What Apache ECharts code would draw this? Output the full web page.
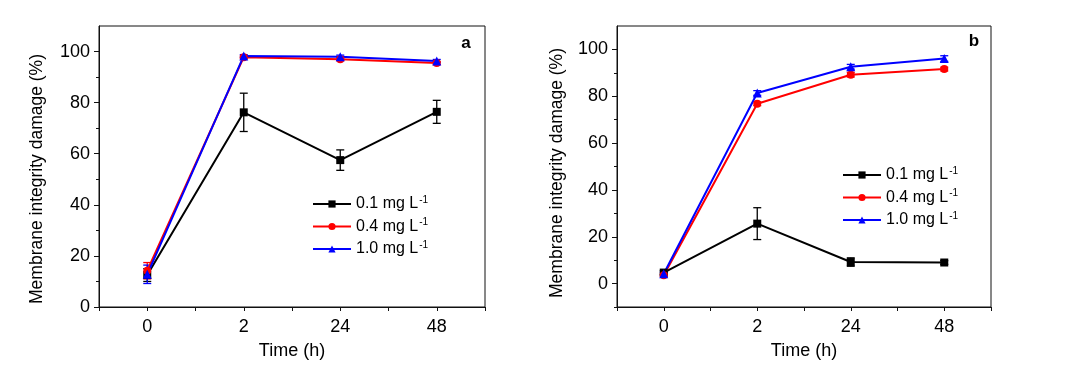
<!DOCTYPE html>
<html>
<head>
<meta charset="utf-8">
<script src="https://cdn.jsdelivr.net/npm/echarts@6.0.0/dist/echarts.min.js"></script>
<style>
  html, body { margin: 0; padding: 0; background: #fff; }
  #main { width: 1080px; height: 375px; }
</style>
</head>
<body>
<div id="main"></div>
<script>
// time points are placed at equal steps; labels are the real hours
const timeLabels = ['0', '2', '24', '48'];
const timePos = [0, 1, 2, 3];
const doseNames = ['0.1', '0.4', '1.0'];
const doseColors = ['#000000', '#ff0000', '#0000ff'];
const doseSymbols = ['rect', 'circle', 'triangle'];

// panel a
const aMean01 = [12.5, 76.2, 57.5, 76.4];
const aErr01 = [2.5, 7.5, 4.0, 4.5];
const aMean04 = [14.2, 97.8, 97.0, 95.5];
const aErr04 = [3.2, 0.5, 0.6, 0.6];
const aMean10 = [12.8, 98.3, 98.0, 96.3];
const aErr10 = [3.6, 0.5, 0.6, 0.6];

// panel b
const bMean01 = [4.7, 25.6, 9.2, 9.0];
const bErr01 = [0.8, 6.8, 1.8, 0.8];
const bMean04 = [3.6, 76.8, 89.2, 91.6];
const bErr04 = [0.6, 0.8, 1.0, 0.8];
const bMean10 = [4.2, 81.4, 92.6, 96.1];
const bErr10 = [0.6, 1.0, 1.0, 1.2];

const yMajor = [0, 20, 40, 60, 80, 100];
const yMinorA = [10, 30, 50, 70, 90];
const yMinorB = [-10, 10, 30, 50, 70, 90];
const xTicks = [-0.5, 0, 0.5, 1, 1.5, 2, 2.5, 3, 3.5];

const FONT = 'Liberation Sans, Arial, sans-serif';
const AXIS_COLOR = '#111';

function errRenderItem(params, api) {
  const x = api.value(0);
  const top = api.coord([x, api.value(2)]);
  const bot = api.coord([x, api.value(1)]);
  const w = 4;
  const style = { stroke: api.visual('color'), lineWidth: 1.3 };
  return {
    type: 'group',
    children: [
      { type: 'line', shape: { x1: top[0], y1: top[1], x2: bot[0], y2: bot[1] }, style },
      { type: 'line', shape: { x1: top[0] - w, y1: top[1], x2: top[0] + w, y2: top[1] }, style },
      { type: 'line', shape: { x1: bot[0] - w, y1: bot[1], x2: bot[0] + w, y2: bot[1] }, style },
    ],
  };
}

function panelSeries(means, errs, xIdx, yIdx) {
  const out = [];
  means.forEach((m, i) => {
    out.push({
      type: 'custom',
      name: 'err' + xIdx + i,
      xAxisIndex: xIdx,
      yAxisIndex: yIdx,
      renderItem: errRenderItem,
      itemStyle: { color: doseColors[i] },
      encode: { x: 0, y: [1, 2] },
      data: timePos.map((t, k) => [t, m[k] - errs[i][k], m[k] + errs[i][k]]),
      z: 3,
    });
  });
  means.forEach((m, i) => {
    out.push({
      type: 'line',
      name: doseNames[i],
      xAxisIndex: xIdx,
      yAxisIndex: yIdx,
      data: timePos.map((t, k) => [t, m[k]]),
      symbol: doseSymbols[i],
      symbolSize: i === 2 ? 9 : 8,
      showSymbol: true,
      color: doseColors[i],
      lineStyle: { width: 2, color: doseColors[i] },
      itemStyle: { color: doseColors[i] },
      z: 4,
    });
  });
  return out;
}

function xAxisFor(gridIndex) {
  return {
    type: 'value', gridIndex, min: -0.5, max: 3.5,
    axisLine: { onZero: false, lineStyle: { color: AXIS_COLOR, width: 1 } },
    axisTick: { customValues: xTicks, length: 4, lineStyle: { color: AXIS_COLOR } },
    axisLabel: {
      customValues: timePos, formatter: v => timeLabels[Math.round(v)],
      fontSize: 18, color: '#000', fontFamily: FONT, margin: 11,
    },
    splitLine: { show: false },
    name: 'Time (h)', nameLocation: 'middle', nameGap: 35,
    nameTextStyle: { fontSize: 18, color: '#000', fontFamily: FONT },
  };
}

function yAxisFor(gridIndex, min) {
  return {
    type: 'value', gridIndex, min, max: 110,
    axisLine: { show: true, onZero: false, lineStyle: { color: AXIS_COLOR, width: 1 } },
    axisTick: { show: true, customValues: yMajor, length: 5, lineStyle: { color: AXIS_COLOR } },
    axisLabel: { customValues: yMajor, fontSize: 18, color: '#000', fontFamily: FONT, margin: 9 },
    splitLine: { show: false },
  };
}

function yMinorFor(gridIndex, min, ticks) {
  return {
    type: 'value', gridIndex, min, max: 110, position: 'left',
    axisLine: { show: false, onZero: false },
    axisTick: { show: true, customValues: ticks, length: 3, lineStyle: { color: AXIS_COLOR } },
    axisLabel: { show: false },
    splitLine: { show: false },
  };
}

function legendFor(left, top) {
  return {
    orient: 'vertical', left, top, padding: 0,
    data: doseNames,
    itemWidth: 38, itemHeight: 9, itemGap: 4.5,
    formatter: n => n + ' mg L{sup|-1}',
    textStyle: {
      fontSize: 16, color: '#000', fontFamily: FONT, lineHeight: 18,
      rich: { sup: { fontSize: 10, lineHeight: 18, verticalAlign: 'top', color: '#000', fontFamily: FONT, padding: [0, 0, 0, 1] } },
    },
  };
}

const yTitle = 'Membrane integrity damage (%)';

const chart = echarts.init(document.getElementById('main'), null, { renderer: 'canvas' });
chart.setOption({
  backgroundColor: '#fff',
  animation: false,
  grid: [
    { left: 99, top: 26, width: 386, height: 281, show: true, borderColor: AXIS_COLOR, borderWidth: 1, backgroundColor: 'transparent' },
    { left: 617, top: 26, width: 374, height: 281, show: true, borderColor: AXIS_COLOR, borderWidth: 1, backgroundColor: 'transparent' },
  ],
  xAxis: [xAxisFor(0), xAxisFor(1)],
  yAxis: [yAxisFor(0, 0), yMinorFor(0, 0, yMinorA), yAxisFor(1, -10), yMinorFor(1, -10, yMinorB)],
  legend: [legendFor(312, 195), legendFor(842, 166)],
  graphic: [
    { type: 'text', x: 37, y: 179, rotation: Math.PI / 2,
      style: { text: yTitle, fontSize: 17.5, fill: '#000', fontFamily: FONT, align: 'center', verticalAlign: 'middle' } },
    { type: 'text', x: 557, y: 173, rotation: Math.PI / 2,
      style: { text: yTitle, fontSize: 17.5, fill: '#000', fontFamily: FONT, align: 'center', verticalAlign: 'middle' } },
    { type: 'text', x: 466, y: 43,
      style: { text: 'a', fontSize: 17, fontWeight: 'bold', fill: '#000', fontFamily: FONT, align: 'center', verticalAlign: 'middle' } },
    { type: 'text', x: 974, y: 41,
      style: { text: 'b', fontSize: 17, fontWeight: 'bold', fill: '#000', fontFamily: FONT, align: 'center', verticalAlign: 'middle' } },
  ],
  series: [
    ...panelSeries([aMean01, aMean04, aMean10], [aErr01, aErr04, aErr10], 0, 0),
    ...panelSeries([bMean01, bMean04, bMean10], [bErr01, bErr04, bErr10], 1, 2),
  ],
});
</script>
</body>
</html>
